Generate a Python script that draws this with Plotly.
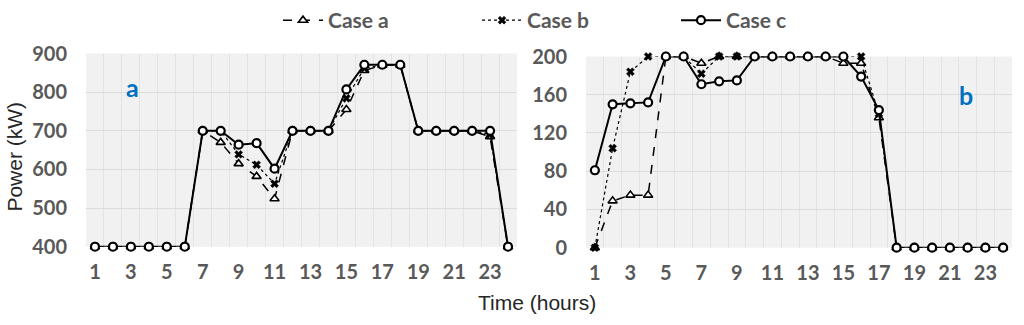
import plotly.graph_objects as go

hours = list(range(1, 25))

# Panel a: Power (kW)
a_case_a = [400, 400, 400, 400, 400, 400, 700, 670, 615, 582, 524, 700,
            700, 700, 755, 856, 870, 870, 700, 700, 700, 700, 685, 400]
a_case_b = [400, 400, 400, 400, 400, 400, 700, 700, 639, 612, 563, 700,
            700, 700, 784, 862, 870, 870, 700, 700, 700, 700, 691, 400]
a_case_c = [400, 400, 400, 400, 400, 400, 700, 700, 664, 668, 602, 700,
            700, 700, 807, 871, 871, 871, 700, 700, 700, 700, 700, 400]

# Panel b
b_case_a = [0, 49, 55, 55, 200, 200, 193, 200, 200, 200, 200, 200,
            200, 200, 193, 193, 136, 0, 0, 0, 0, 0, 0, 0]
b_case_b = [0, 104, 184, 200, 200, 200, 182, 200, 200, 200, 200, 200,
            200, 200, 200, 200, 140, 0, 0, 0, 0, 0, 0, 0]
b_case_c = [81, 150, 151, 152, 200, 200, 171, 174, 175, 200, 200, 200,
            200, 200, 200, 179, 144, 0, 0, 0, 0, 0, 0, 0]

series_names = ["Case a", "Case b", "Case c"]
tick_font = dict(family="Lato", size=20, color="#595959", weight="bold")

fig = go.Figure()

styles = {
    "Case a": dict(line=dict(color="black", width=1.5, dash="dash"),
                   marker=dict(symbol="triangle-up", size=8, color="white",
                               line=dict(color="black", width=1.6))),
    "Case b": dict(line=dict(color="black", width=1.2, dash="dot"),
                   marker=dict(symbol="x", size=7, color="black",
                               line=dict(color="black", width=0.5))),
    "Case c": dict(line=dict(color="black", width=2),
                   marker=dict(symbol="circle", size=8, color="white",
                               line=dict(color="black", width=2.2))),
}

left = [a_case_a, a_case_b, a_case_c]
right = [b_case_a, b_case_b, b_case_c]
for name, ys in zip(series_names, left):
    fig.add_trace(go.Scatter(x=hours, y=ys, name=name, mode="lines+markers",
                             xaxis="x", yaxis="y", cliponaxis=False,
                             **styles[name]))
for name, ys in zip(series_names, right):
    fig.add_trace(go.Scatter(x=hours, y=ys, name=name, mode="lines+markers",
                             xaxis="x2", yaxis="y2", cliponaxis=False,
                             showlegend=False, **styles[name]))

W, H = 1024, 325
xd1 = [86 / W, 517 / W]
xd2 = [586 / W, 1012 / W]
yd1 = [1 - 246 / H, 1 - 51 / H]
yd2 = [1 - 247 / H, 1 - 54 / H]

xcommon = dict(range=[0.5, 24.5], tick0=1, dtick=2, showgrid=False,
               zeroline=False, showline=False, ticks="", tickfont=tick_font,
               ticklabelstandoff=11, automargin=False,
               minor=dict(tick0=0.5, dtick=1, showgrid=True,
                          gridcolor="#e3e3e3", gridwidth=1))
ycommon = dict(showgrid=True, gridcolor="#dcdcdc", gridwidth=1, zeroline=False,
               showline=False, ticks="", tickfont=tick_font,
               ticklabelstandoff=18, automargin=False)

fig.update_layout(
    width=W, height=H,
    margin=dict(l=0, r=0, t=0, b=0),
    paper_bgcolor="white",
    plot_bgcolor="#f1f1f1",
    template="none",
    xaxis=dict(domain=xd1, anchor="y", **xcommon),
    yaxis=dict(domain=yd1, anchor="x", range=[400, 900], dtick=100, **ycommon),
    xaxis2=dict(domain=xd2, anchor="y2", **xcommon),
    yaxis2=dict(domain=yd2, anchor="x2", range=[0, 200], dtick=40, **ycommon),
    legend=dict(orientation="h", x=278 / W, xanchor="left", y=1.0 + 3 / H,
                yanchor="top",
                font=dict(family="Lato", size=21, color="#595959", weight="bold"),
                entrywidth=144, entrywidthmode="pixels",
                bgcolor="rgba(0,0,0,0)", itemwidth=40),
    showlegend=True,
    annotations=[
        dict(text="Power (kW)", textangle=-90, x=15 / W, y=1 - 155 / H,
             xref="paper", yref="paper", xanchor="center", yanchor="middle",
             showarrow=False,
             font=dict(family="Liberation Sans", size=21, color="#262626")),
        dict(text="Time (hours)", x=537 / W, y=1 - 302 / H, xref="paper",
             yref="paper", xanchor="center", yanchor="middle", showarrow=False,
             font=dict(family="Liberation Sans", size=21, color="#262626")),
        dict(text="<b>a</b>", x=0.109, y=0.826, xref="x domain", yref="y domain",
             xanchor="center", yanchor="middle", showarrow=False,
             font=dict(family="Lato", size=25, color="#0070C0")),
        dict(text="<b>b</b>", x=0.892, y=0.798, xref="x2 domain", yref="y2 domain",
             xanchor="center", yanchor="middle", showarrow=False,
             font=dict(family="Lato", size=25, color="#0070C0")),
    ],
)

fig.write_html("out.html", config={"displayModeBar": False},
               post_script="document.body.style.margin='0';document.body.style.overflow='hidden';")
